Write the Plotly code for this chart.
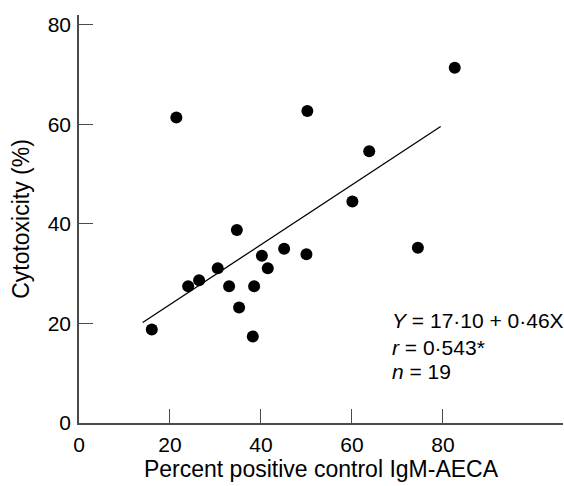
import plotly.graph_objects as go

x_vals = [21.4, 50.2, 63.8, 60.1, 34.7, 45.1, 50.0, 40.2, 41.5, 30.5,
          26.4, 24.0, 33.0, 38.5, 35.2, 16.0, 38.2, 74.5, 82.6]
y_vals = [61.4, 62.7, 54.6, 44.5, 38.8, 35.0, 33.9, 33.6, 31.1, 31.1,
          28.7, 27.5, 27.5, 27.5, 23.2, 18.8, 17.4, 35.2, 71.4]
line_x = [14.0, 79.5]
line_y = [20.2, 59.6]
x_ticks = [0, 20, 40, 60, 80]
y_ticks = [0, 20, 40, 60, 80]
stats_lines = ["<i>Y</i> = 17·10 + 0·46X", "<i>r</i> = 0·543*", "<i>n</i> = 19"]
stats_y = [20.7, 15.2, 10.3]

FONT = "Liberation Sans, Arial, sans-serif"
AX = "#4a4a4a"

fig = go.Figure()
fig.add_trace(go.Scatter(x=line_x, y=line_y, mode="lines",
                         line=dict(color="black", width=1.3), showlegend=False))
fig.add_trace(go.Scatter(x=x_vals, y=y_vals, mode="markers",
                         marker=dict(color="black", size=12), showlegend=False))

for txt, yy in zip(stats_lines, stats_y):
    fig.add_annotation(x=68.4, y=yy, text=txt, showarrow=False, xanchor="left",
                       yanchor="middle", font=dict(family=FONT, size=21, color="black"))

fig.update_layout(
    width=564, height=486,
    margin=dict(l=79, r=1, t=15, b=63),
    plot_bgcolor="white", paper_bgcolor="white",
    font=dict(family=FONT, size=21, color="black"),
    xaxis=dict(range=[0, 106.4], tickvals=x_ticks, ticks="inside", ticklen=14,
               tickcolor=AX, tickwidth=1.2, showline=True, linecolor=AX, linewidth=1.5,
               showgrid=False, zeroline=False, ticklabelstandoff=2, automargin=False,
               tickfont=dict(size=21),
               title=dict(text="Percent positive control IgM-AECA", standoff=6,
                          font=dict(size=23))),
    yaxis=dict(range=[0, 82], tickvals=y_ticks, ticks="inside", ticklen=14,
               tickcolor=AX, tickwidth=1.2, showline=True, linecolor=AX, linewidth=1.5,
               showgrid=False, zeroline=False, ticklabelstandoff=2, automargin=False,
               tickfont=dict(size=21),
               title=dict(text="Cytotoxicity (%)", standoff=12, font=dict(size=23))),
)

fig.write_html("out.html", config={"displayModeBar": False},
               post_script="document.body.style.margin='0';")
